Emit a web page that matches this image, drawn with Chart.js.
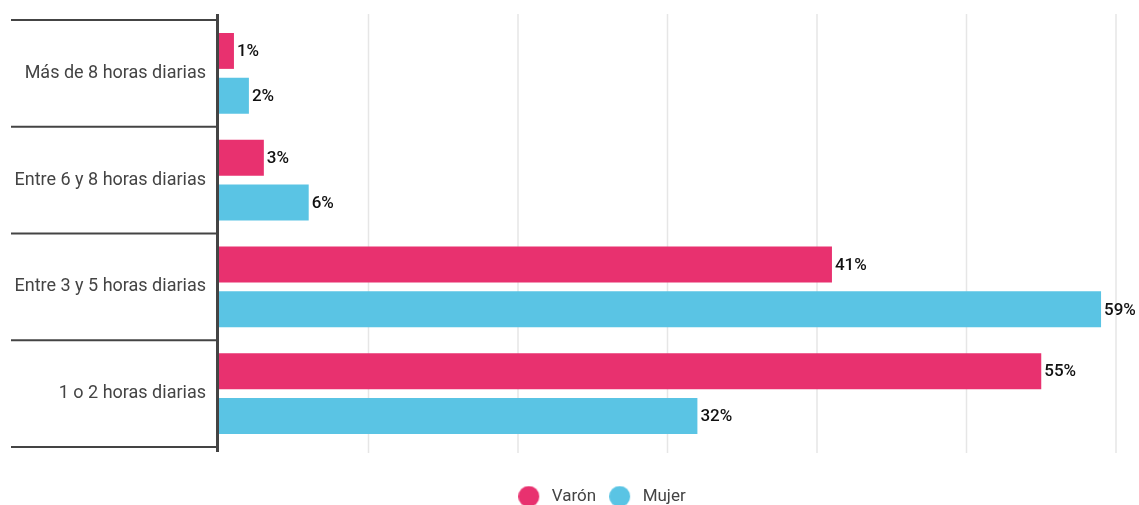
<!DOCTYPE html>
<html>
<head>
<meta charset="utf-8">
<script src="https://cdn.jsdelivr.net/npm/chart.js@4"></script>
<style>
  html, body { margin: 0; padding: 0; background: #fff; overflow: hidden; }
  #wrap { width: 1139px; height: 505px; position: relative; }
</style>
</head>
<body>
<div id="wrap"><canvas id="c"></canvas></div>
<script>
const categories = ['Más de 8 horas diarias', 'Entre 6 y 8 horas diarias', 'Entre 3 y 5 horas diarias', '1 o 2 horas diarias'];
const seriesNames = ['Varón', 'Mujer'];
const varon = [1, 3, 41, 55];
const mujer = [2, 6, 59, 32];
const xTicks = [0, 10, 20, 30, 40, 50, 60];

const PINK = '#E8316F';
const BLUE = '#5AC4E4';
const AXIS = '#444444';

// legend marker: circle drawn on the left of a slightly wider canvas
function marker(color) {
  const cv = document.createElement('canvas');
  cv.width = 25; cv.height = 22;
  const g = cv.getContext('2d');
  g.fillStyle = color;
  g.beginPath();
  g.arc(10.5, 11, 10.5, 0, Math.PI * 2);
  g.fill();
  return cv;
}
const markers = [marker(PINK), marker(BLUE)];

const decor = {
  id: 'decor',
  afterLayout(chart) {
    const lg = chart.legend;
    if (lg) {
      lg.left = 88;
      lg.width = lg.right - lg.left;
    }
  },
  beforeDatasetsDraw(chart) {
    const {ctx, chartArea: a, scales: {x}} = chart;
    ctx.save();
    ctx.strokeStyle = '#e6e6e6';
    ctx.lineWidth = 1.5;
    xTicks.forEach(v => {
      if (v === 0) return;
      const px = x.getPixelForValue(v);
      ctx.beginPath();
      ctx.moveTo(px, a.top - 6);
      ctx.lineTo(px, a.bottom + 6);
      ctx.stroke();
    });
    ctx.restore();
  },
  afterDatasetsDraw(chart) {
    const {ctx, chartArea: a, scales: {y}} = chart;
    ctx.save();
    // category separators
    const n = categories.length;
    const step = n > 1 ? y.getPixelForValue(1) - y.getPixelForValue(0) : (a.bottom - a.top);
    ctx.strokeStyle = AXIS;
    ctx.lineWidth = 2;
    for (let i = 0; i <= n; i++) {
      const py = y.getPixelForValue(0) - step / 2 + i * step;
      ctx.beginPath();
      ctx.moveTo(11, py);
      ctx.lineTo(a.left - 1, py);
      ctx.stroke();
    }
    // axis line
    ctx.lineWidth = 3;
    ctx.beginPath();
    ctx.moveTo(a.left - 1.5, a.top - 6);
    ctx.lineTo(a.left - 1.5, a.bottom + 5);
    ctx.stroke();
    // value labels
    ctx.fillStyle = '#111';
    ctx.font = '500 17px Roboto';
    ctx.textAlign = 'left';
    ctx.textBaseline = 'middle';
    chart.data.datasets.forEach((ds, di) => {
      const meta = chart.getDatasetMeta(di);
      meta.data.forEach((bar, i) => {
        ctx.fillText(ds.data[i] + '%', bar.x + 3, bar.y + 1);
      });
    });
    ctx.restore();
  }
};

new Chart(document.getElementById('c'), {
  type: 'bar',
  data: {
    labels: categories,
    datasets: [
      { label: seriesNames[0], data: varon, backgroundColor: PINK },
      { label: seriesNames[1], data: mujer, backgroundColor: BLUE }
    ]
  },
  options: {
    indexAxis: 'y',
    responsive: true,
    maintainAspectRatio: false,
    animation: false,
    categoryPercentage: 0.841,
    barPercentage: 0.8,
    layout: { padding: { top: 20, right: 23, left: 0, bottom: -10 } },
    scales: {
      x: {
        min: 0, max: 60,
        ticks: { display: false, stepSize: 10 },
        grid: { display: false },
        border: { display: false },
        afterFit: s => { s.height = 28; }
      },
      y: {
        grid: { display: false, drawTicks: false },
        border: { display: false },
        ticks: { color: AXIS, font: { family: 'Roboto', size: 18 }, padding: 13, crossAlign: 'near' },
        afterFit: s => { s.width = 219; s.paddingTop = 0; s.paddingBottom = 0; }
      }
    },
    plugins: {
      tooltip: { enabled: false },
      legend: {
        position: 'bottom',
        labels: {
          usePointStyle: true,
          pointStyleWidth: 25,
          boxHeight: 17,
          padding: 13,
          color: AXIS,
          font: { family: 'Roboto', size: 17 },
          generateLabels: chart => chart.data.datasets.map((ds, i) => ({
            text: ds.label,
            fillStyle: ds.backgroundColor,
            strokeStyle: ds.backgroundColor,
            lineWidth: 0,
            pointStyle: markers[i],
            fontColor: AXIS,
            hidden: false,
            datasetIndex: i
          }))
        }
      }
    }
  },
  plugins: [decor]
});
</script>
</body>
</html>
